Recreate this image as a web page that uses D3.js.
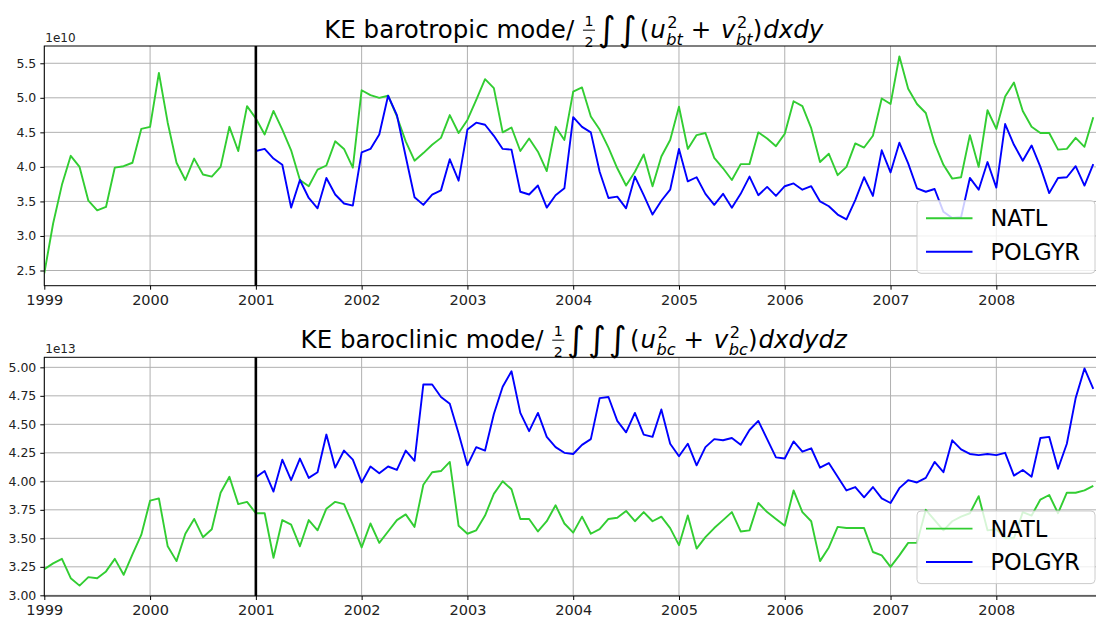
<!DOCTYPE html>
<html><head><meta charset="utf-8">
<script src="https://cdn.jsdelivr.net/npm/d3@7"></script>
<style>
html,body{margin:0;padding:0;background:#fff;}
svg{display:block;font-family:"DejaVu Sans",sans-serif;}
</style></head>
<body><svg id="c" width="1096" height="618"></svg>
<script>
// ---------------- data ----------------
const years = [1999,2000,2001,2002,2003,2004,2005,2006,2007,2008];
const yearLabels = ["1999","2000","2001","2002","2003","2004","2005","2006","2007","2008"];
const startNATL = 1999, startPOLGYR = 2001, markerYear = 2001;
const seriesNames = ["NATL","POLGYR"];

const btTicks = [2.5,3.0,3.5,4.0,4.5,5.0,5.5];
const bcTicks = [3.00,3.25,3.50,3.75,4.00,4.25,4.50,4.75,5.00];

// barotropic KE (x 1e10), monthly
const btNATL = [
 2.46,3.18,3.74,4.16,4.00,3.51,3.37,3.42,3.99,4.01,4.06,4.55,
 4.58,5.36,4.64,4.06,3.81,4.12,3.89,3.86,4.00,4.58,4.23,4.88,
 4.70,4.47,4.81,4.54,4.24,3.81,3.72,3.96,4.02,4.37,4.26,3.99,
 5.11,5.04,5.00,5.03,4.73,4.37,4.09,4.20,4.32,4.42,4.75,4.49,
 4.68,4.97,5.27,5.14,4.50,4.57,4.23,4.41,4.22,3.94,4.58,4.39,
 5.09,5.15,4.73,4.54,4.28,3.98,3.73,3.93,4.18,3.72,4.15,4.39,
 4.87,4.26,4.46,4.49,4.13,3.98,3.81,4.04,4.04,4.50,4.41,4.30,
 4.48,4.95,4.88,4.56,4.07,4.19,3.88,4.00,4.34,4.28,4.45,4.99,
 4.91,5.60,5.13,4.91,4.78,4.34,4.03,3.83,3.85,4.46,4.00,4.82,
 4.55,5.02,5.22,4.81,4.58,4.49,4.49,4.25,4.26,4.42,4.29,4.72];
const btPOLGYR = [
 4.23,4.26,4.12,4.03,3.41,3.81,3.55,3.40,3.84,3.60,3.47,3.44,
 4.21,4.26,4.47,5.03,4.75,4.15,3.56,3.45,3.60,3.66,4.11,3.80,
 4.54,4.64,4.61,4.45,4.26,4.25,3.64,3.60,3.73,3.41,3.59,3.69,
 4.72,4.58,4.50,3.93,3.55,3.57,3.40,3.86,3.59,3.31,3.51,3.67,
 4.26,3.79,3.85,3.61,3.45,3.61,3.41,3.61,3.86,3.59,3.71,3.58,
 3.72,3.76,3.67,3.72,3.50,3.43,3.31,3.24,3.52,3.85,3.58,4.24,
 3.92,4.35,4.05,3.69,3.64,3.68,3.35,3.26,3.27,3.84,3.67,4.07,
 3.70,4.62,4.32,4.09,4.31,4.00,3.62,3.84,3.85,4.01,3.73,4.04];

// baroclinic KE (x 1e13), monthly
const bcNATL = [
 3.23,3.28,3.32,3.15,3.085,3.16,3.15,3.21,3.32,3.18,3.36,3.53,
 3.83,3.85,3.43,3.30,3.54,3.67,3.51,3.58,3.90,4.04,3.80,3.82,
 3.72,3.72,3.33,3.66,3.62,3.43,3.66,3.57,3.76,3.82,3.80,3.62,
 3.42,3.63,3.46,3.56,3.66,3.71,3.60,3.97,4.08,4.09,4.17,3.61,
 3.54,3.57,3.70,3.89,4.00,3.93,3.67,3.67,3.56,3.65,3.79,3.63,
 3.55,3.69,3.54,3.58,3.67,3.68,3.74,3.65,3.73,3.65,3.69,3.59,
 3.44,3.70,3.41,3.51,3.59,3.66,3.73,3.56,3.57,3.81,3.73,3.67,
 3.61,3.92,3.73,3.65,3.30,3.42,3.60,3.59,3.59,3.59,3.38,3.35,
 3.25,3.35,3.46,3.46,3.75,3.66,3.57,3.65,3.69,3.72,3.87,3.57,
 3.58,3.50,3.50,3.73,3.70,3.84,3.88,3.72,3.90,3.90,3.92,3.96];
const bcPOLGYR = [
 4.035,4.09,3.91,4.19,4.01,4.20,4.03,4.08,4.41,4.12,4.27,4.19,
 3.99,4.13,4.07,4.13,4.10,4.27,4.18,4.85,4.85,4.74,4.68,4.42,
 4.14,4.30,4.27,4.59,4.83,4.965,4.60,4.44,4.60,4.39,4.30,4.25,
 4.24,4.32,4.37,4.73,4.74,4.53,4.43,4.60,4.41,4.39,4.63,4.33,
 4.22,4.33,4.14,4.30,4.37,4.36,4.38,4.32,4.45,4.53,4.37,4.21,
 4.20,4.35,4.26,4.29,4.12,4.16,4.04,3.92,3.95,3.86,3.95,3.85,
 3.81,3.94,4.01,3.99,4.03,4.17,4.08,4.36,4.28,4.24,4.23,4.24,
 4.23,4.25,4.05,4.10,4.04,4.38,4.39,4.11,4.33,4.73,4.99,4.81];

// ---------------- drawing ----------------
const svg = d3.select("#c");
const COLORS = {NATL:"#32cd32", POLGYR:"#0000ff"};
const FONT = "DejaVu Sans";

const x = d3.scaleLinear().domain([1999, 2009]).range([44.3, 1102.1]);

function mathTitle(pieces, cx, base, fs) {
  const g = svg.append("g");
  let xp = 0;
  function put(t, size, it, dy, xx) {
    const el = g.append("text").attr("x", xx).attr("y", base + dy*fs)
      .attr("font-size", size*fs).attr("font-family", FONT)
      .attr("font-style", it ? "oblique" : "normal").attr("fill", "#000")
      .style("white-space","pre").text(t);
    return el.node().getComputedTextLength();
  }
  pieces.forEach(p => {
    if (p.frac) {
      const sz = 0.58;
      const tmp1 = g.append("text").attr("font-size", sz*fs).attr("font-family",FONT).text(p.frac[0]);
      const w1 = tmp1.node().getComputedTextLength(); tmp1.remove();
      const w = w1 + 3;
      g.append("text").attr("x", xp + 1 + w/2).attr("y", base - 0.47*fs).attr("text-anchor","middle")
        .attr("font-size", sz*fs).attr("font-family",FONT).text(p.frac[0]);
      g.append("text").attr("x", xp + 1 + w/2).attr("y", base + 0.38*fs).attr("text-anchor","middle")
        .attr("font-size", sz*fs).attr("font-family",FONT).text(p.frac[1]);
      g.append("line").attr("x1", xp+1).attr("x2", xp+1+w).attr("y1", base-0.32*fs).attr("y2", base-0.32*fs)
        .attr("stroke","#000").attr("stroke-width",1);
      xp += w + 4;
    } else if (p.stack) {
      let wmax = 0;
      p.stack.forEach(q => { wmax = Math.max(wmax, put(q.t, q.size, q.it, q.dy, xp + (q.dx||0)) + (q.dx||0)); });
      xp += wmax;
    } else {
      xp += put(p.t, p.size||1, p.it, p.dy||0, xp + (p.dx||0)) + (p.dx||0) + (p.after||0);
    }
  });
  g.attr("transform", `translate(${cx - xp/2},0)`);
}

function panel(cfg) {
  const y = d3.scaleLinear().domain(cfg.ydom).range([cfg.bottom, cfg.top]);
  const L = x.range()[0], R = x.range()[1];
  const clipId = "clip" + cfg.id;
  svg.append("clipPath").attr("id", clipId).append("rect")
    .attr("x", L).attr("y", cfg.top).attr("width", R-L).attr("height", cfg.bottom-cfg.top);

  // grid
  const grid = svg.append("g");
  grid.selectAll(".hg").data(cfg.ticks).enter().append("line")
    .attr("x1", L).attr("x2", R).attr("y1", d=>y(d)).attr("y2", d=>y(d))
    .attr("stroke","#b0b0b0").attr("stroke-width",1);
  grid.selectAll(".vg").data(years).enter().append("line")
    .attr("x1", d=>x(d)).attr("x2", d=>x(d)).attr("y1", cfg.top).attr("y2", cfg.bottom)
    .attr("stroke","#b0b0b0").attr("stroke-width",1);

  // series
  const line = d3.line().x(d=>x(d.t)).y(d=>y(d.v));
  const mk = (arr, start) => arr.map((v,i)=>({t:start + i/12, v}));
  const lg = svg.append("g").attr("clip-path", `url(#${clipId})`);
  lg.append("path").datum(mk(cfg.natl, startNATL)).attr("d", line)
    .attr("fill","none").attr("stroke",COLORS.NATL).attr("stroke-width",1.9).attr("stroke-linejoin","round");
  lg.append("path").datum(mk(cfg.pol, startPOLGYR)).attr("d", line)
    .attr("fill","none").attr("stroke",COLORS.POLGYR).attr("stroke-width",1.9).attr("stroke-linejoin","round");

  // marker line
  svg.append("line").attr("x1", x(markerYear)).attr("x2", x(markerYear))
    .attr("y1", cfg.top).attr("y2", cfg.bottom).attr("stroke","#000").attr("stroke-width",2.6);

  // axes
  const ya = svg.append("g").attr("transform", `translate(${L},0)`)
    .call(d3.axisLeft(y).tickValues(cfg.ticks).tickFormat(d3.format(cfg.fmt)).tickSize(4).tickPadding(4));
  ya.select(".domain").remove();
  ya.selectAll("text").attr("font-size", 12.5).attr("font-family", FONT).attr("fill","#222");
  ya.selectAll("line").attr("stroke","#000");
  const xa = svg.append("g").attr("transform", `translate(0,${cfg.bottom})`)
    .call(d3.axisBottom(x).tickValues(years).tickFormat((d,i)=>yearLabels[i]).tickSize(4).tickPadding(5));
  xa.select(".domain").remove();
  xa.selectAll("text").attr("font-size", 14.5).attr("font-family", FONT).attr("fill","#222");
  xa.selectAll("line").attr("stroke","#000");

  // spines
  svg.append("rect").attr("x", L).attr("y", cfg.top).attr("width", R-L).attr("height", cfg.bottom-cfg.top)
    .attr("fill","none").attr("stroke","#000").attr("stroke-width",1);

  // offset text
  svg.append("text").attr("x", L+1).attr("y", cfg.top - 4).attr("font-size", 12).attr("font-family", FONT)
    .attr("fill","#222").text(cfg.offset);

  // legend
  const lgW = 178, lgH = 72.6;
  const lx = 917, ly = cfg.bottom - 12.4 - lgH;
  const leg = svg.append("g");
  leg.append("rect").attr("x", lx).attr("y", ly).attr("width", lgW).attr("height", lgH).attr("rx",4)
    .attr("fill","#fff").attr("fill-opacity",0.8).attr("stroke","#cccccc").attr("stroke-width",1);
  seriesNames.forEach((n,i) => {
    const yy = ly + 17.6 + i*33.4;
    leg.append("line").attr("x1", lx+9).attr("x2", lx+55.5).attr("y1", yy).attr("y2", yy)
      .attr("stroke", COLORS[n]).attr("stroke-width",1.9);
    leg.append("text").attr("x", lx+73.5).attr("y", yy).attr("dy","0.36em").attr("font-size",22.5)
      .attr("font-family",FONT).attr("fill","#000").text(n);
  });

  mathTitle(cfg.title, (L + 1093.3)/2 + 5, cfg.titleBase, 24.5);
}

const sub = (t) => ({stack:[{t:"2", size:0.66, it:false, dy:-0.40, dx:1.5}, {t:t, size:0.66, it:true, dy:0.30, dx:0.5}]});
const integ = {t:"∫", size:1.4, dy:0.12, after:3};

panel({id:1, top:46, bottom:285.7, ydom:[2.28,5.75], ticks:btTicks, fmt:".1f",
  natl:btNATL, pol:btPOLGYR, offset:"1e10", titleBase:38,
  title:[{t:"KE barotropic mode/ "},{frac:["1","2"]},
    integ,integ,{t:"(", after:1},{t:"u", it:true},sub("bt"),
    {t:" + ", after:2},{t:"v", it:true},sub("bt"),{t:")", after:1},{t:"dxdy", it:true}]});

panel({id:2, top:357.3, bottom:596, ydom:[2.994,5.088], ticks:bcTicks, fmt:".2f",
  natl:bcNATL, pol:bcPOLGYR, offset:"1e13", titleBase:348,
  title:[{t:"KE baroclinic mode/ "},{frac:["1","2"]},
    integ,integ,integ,{t:"(", after:1},{t:"u", it:true},sub("bc"),
    {t:" + ", after:2},{t:"v", it:true},sub("bc"),{t:")", after:1},{t:"dxdydz", it:true}]});
</script>
</body></html>
